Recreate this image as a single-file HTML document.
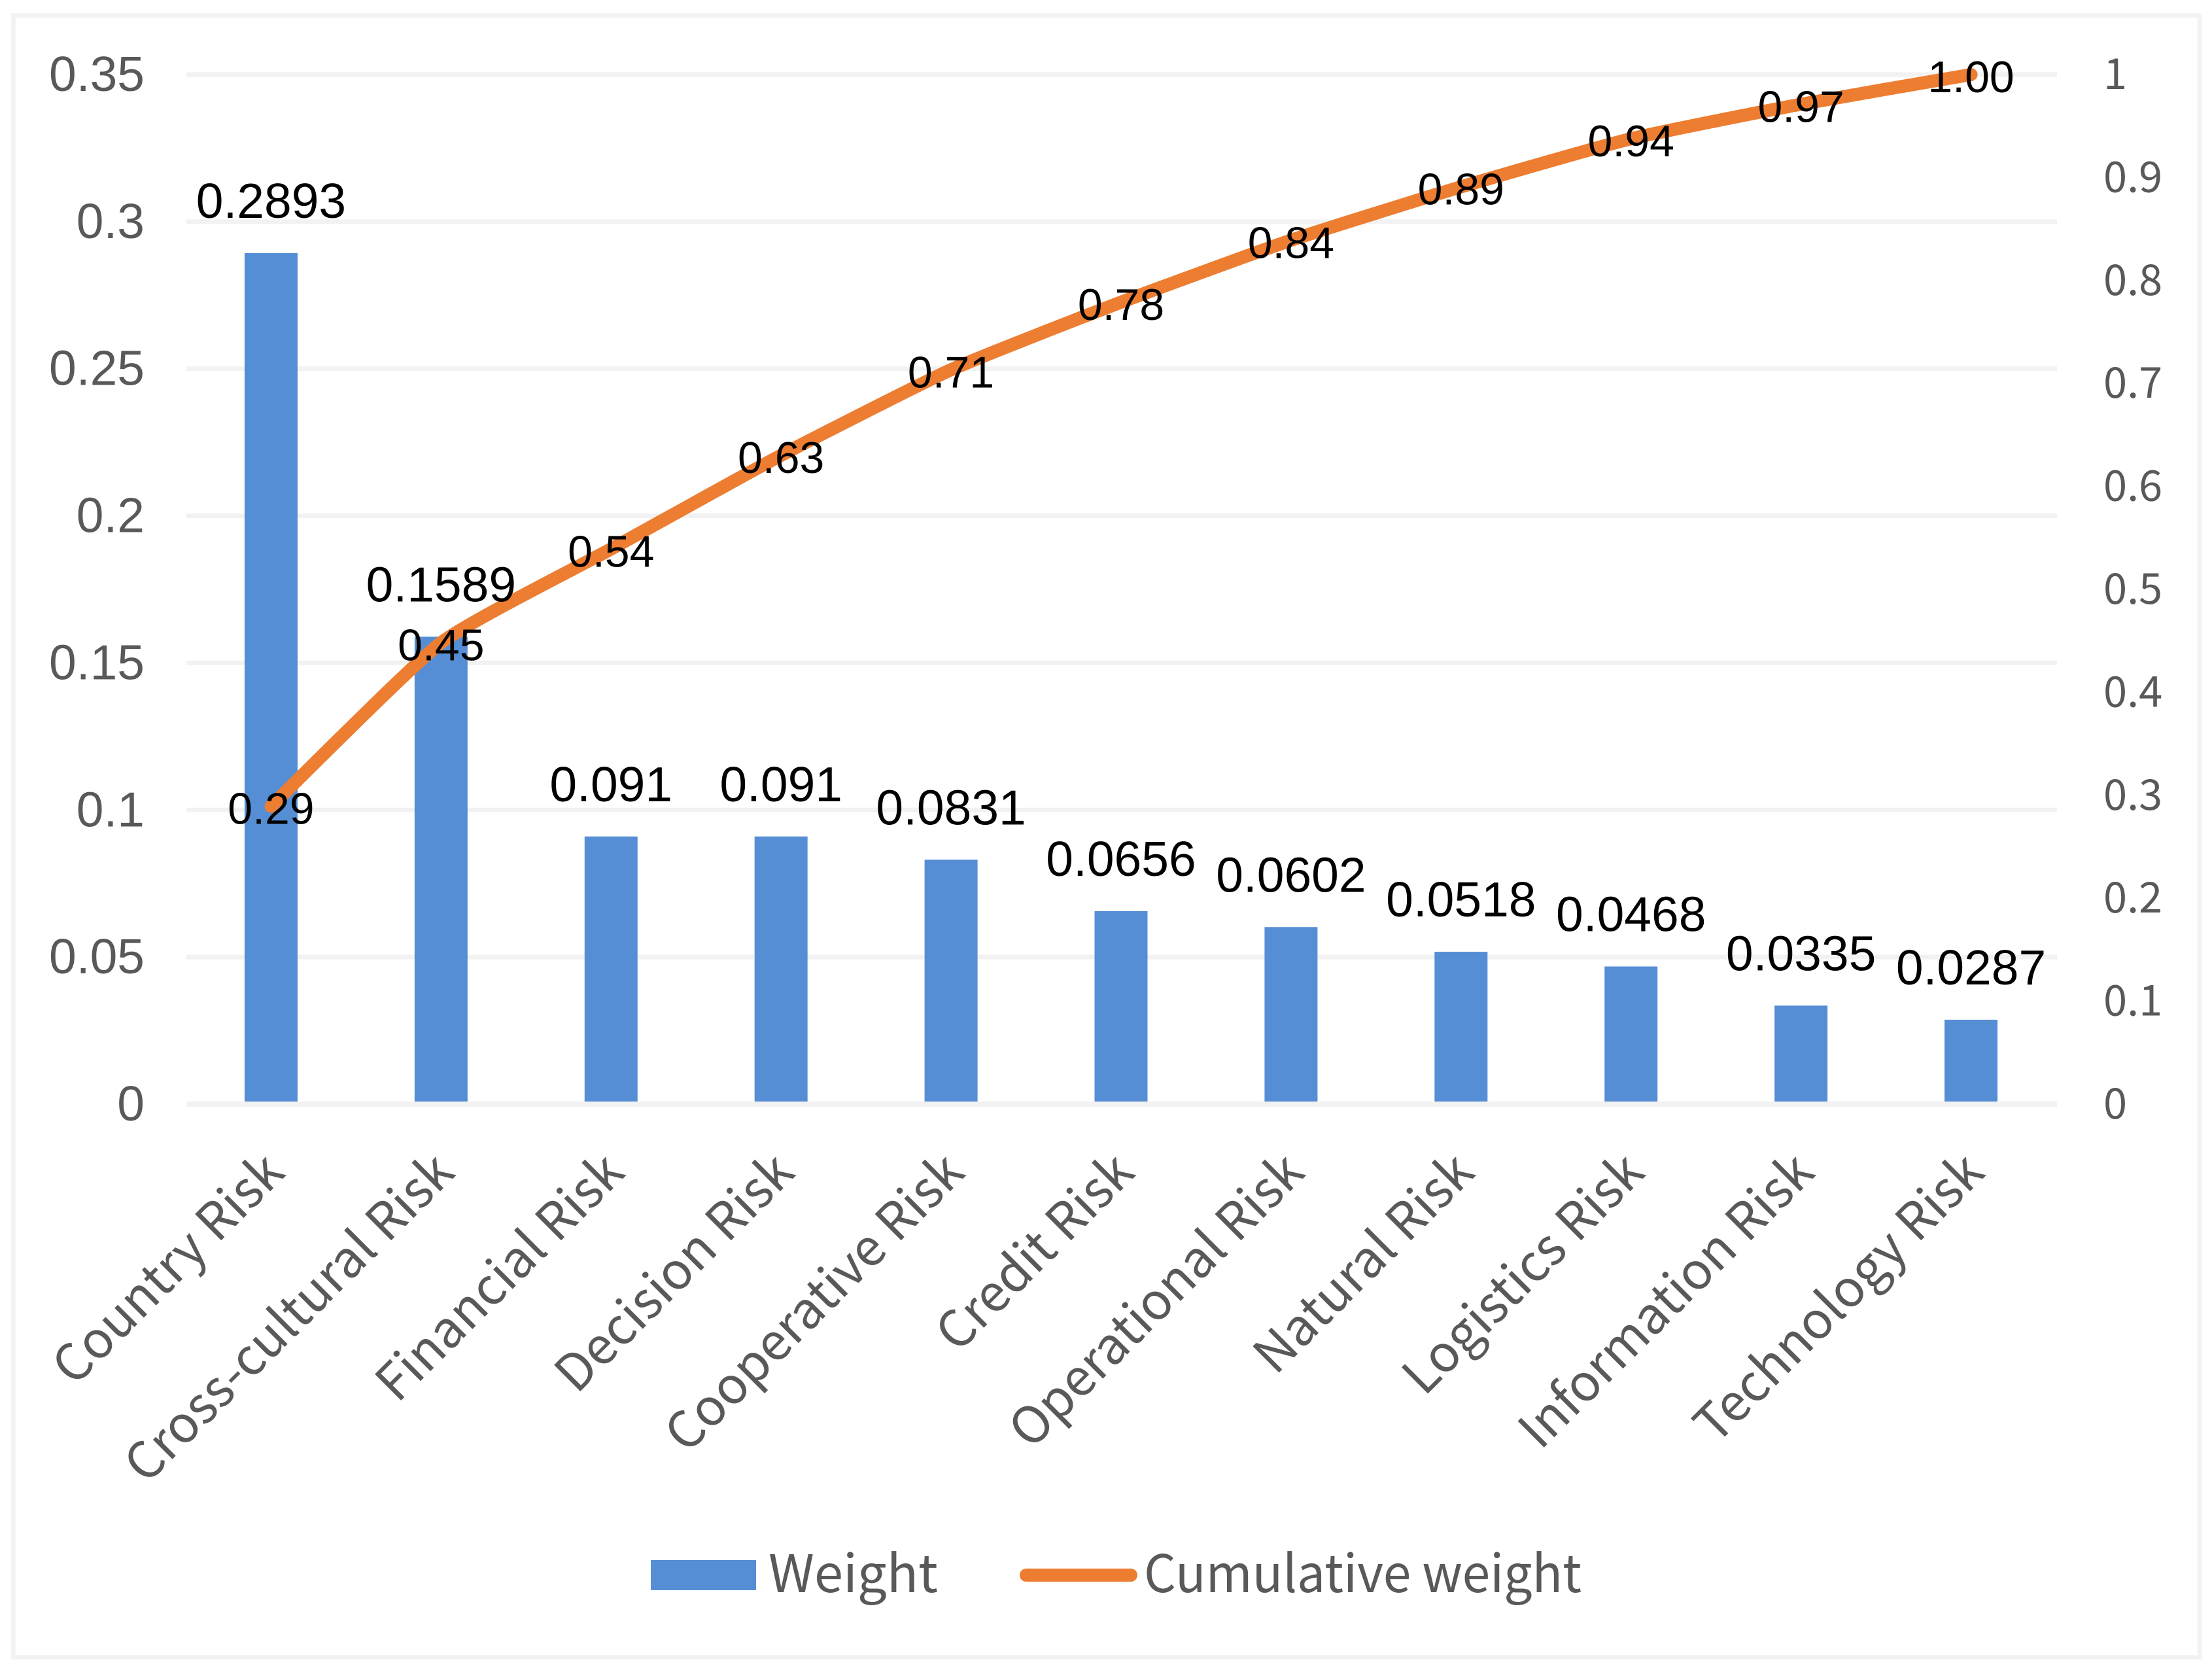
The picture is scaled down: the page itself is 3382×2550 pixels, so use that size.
<!DOCTYPE html>
<html lang="en">
<head>
<meta charset="utf-8">
<title>Risk weight Pareto chart</title>
<style>
html,body{margin:0;padding:0;background:#fff;width:3382px;height:2550px;overflow:hidden}
svg{display:block}
.arial{font-family:"Liberation Sans",Arial,sans-serif}
.noto{font-family:"Noto Sans CJK SC","Liberation Sans",sans-serif}
</style>
</head>
<body>
<svg id="chart" xmlns="http://www.w3.org/2000/svg" width="3382" height="2550" viewBox="0 0 3382 2550">
  <rect x="0" y="0" width="3382" height="2550" fill="#ffffff"/>
  <rect x="20.5" y="23.5" width="3342.5" height="2510" fill="none" stroke="#f2f2f2" stroke-width="6.5"/>
  <g id="grid"></g>
  <g id="bars"></g>
  <g id="axis"></g>
  <g id="line"></g>
  <g id="leftTicks"></g>
  <g id="rightTicks"></g>
  <g id="catLabels"></g>
  <g id="barLabels"></g>
  <g id="lineLabels"></g>
  <g>
    <g>
      <rect x="995" y="2385" width="161" height="46" fill="#558ed5"/>
      <text class="noto" x="1175" y="2434" font-size="79" fill="#595959" textLength="259" lengthAdjust="spacingAndGlyphs">Weight</text>
    </g>
    <g>
      <line x1="1569" y1="2408" x2="1729" y2="2408" stroke="#ed7d31" stroke-width="20" stroke-linecap="round"/>
      <text class="noto" x="1749" y="2434" font-size="79" fill="#595959" textLength="669" lengthAdjust="spacingAndGlyphs">Cumulative weight</text>
    </g>
  </g>
</svg>
<script>
const categories = ['Country Risk','Cross-cultural Risk','Financial Risk','Decision Risk','Cooperative Risk','Credit Risk','Operational Risk','Natural Risk','Logistics Risk','Information Risk','Technology Risk'];
const weightValues = [0.2893,0.1589,0.091,0.091,0.0831,0.0656,0.0602,0.0518,0.0468,0.0335,0.0287];
const weightLabels = ['0.2893','0.1589','0.091','0.091','0.0831','0.0656','0.0602','0.0518','0.0468','0.0335','0.0287'];
const cumulativeValues = [0.2893,0.4482,0.5392,0.6302,0.7133,0.7789,0.8391,0.8909,0.9377,0.9712,1.0];
const cumulativeLabels = ['0.29','0.45','0.54','0.63','0.71','0.78','0.84','0.89','0.94','0.97','1.00'];
const leftTickLabels = ['0','0.05','0.1','0.15','0.2','0.25','0.3','0.35'];
const rightTickLabels = ['0','0.1','0.2','0.3','0.4','0.5','0.6','0.7','0.8','0.9','1'];

const NS = 'http://www.w3.org/2000/svg';
const plotLeft = 285, plotRight = 3145, plotTop = 114, plotBottom = 1688;
const bandLeft = 284.5, bandRight = 3143.5;
const leftMax = 0.35, rightMax = 1;
const barWidth = 81;

function xBand(i) { return bandLeft + (bandRight - bandLeft) * (i + 0.5) / categories.length; }
function yLeft(v) { return plotBottom - (plotBottom - plotTop) * v / leftMax; }
function yRight(v) { return plotBottom - (plotBottom - plotTop) * v / rightMax; }
function make(tag, parent, attrs) {
  const el = document.createElementNS(NS, tag);
  for (const k in attrs) el.setAttribute(k, attrs[k]);
  parent.appendChild(el);
  return el;
}

const gridG = document.getElementById('grid');
leftTickLabels.forEach(function (t) {
  const v = Number(t);
  if (v === 0) return;
  const el = make('line', gridG, {x1: plotLeft, x2: plotRight, y1: yLeft(v), y2: yLeft(v), stroke: '#f2f2f2', 'stroke-width': 7});
  
  
});

const barsG = document.getElementById('bars');
weightValues.forEach(function (v, i) {
  const el = make('rect', barsG, {x: xBand(i) - barWidth / 2, y: yLeft(v), width: barWidth, height: yLeft(0) - yLeft(v), fill: '#558ed5'});
  
  
});

const axisG = document.getElementById('axis');
const axisLine = make('line', axisG, {x1: plotLeft, x2: plotRight, y1: plotBottom, y2: plotBottom, stroke: '#f2f2f2', 'stroke-width': 8});



const pts = cumulativeValues.map(function (v, i) { return [xBand(i), yRight(v)]; });
let d = 'M' + pts[0][0] + ' ' + pts[0][1];
for (let i = 0; i < pts.length - 1; i++) {
  const p0 = pts[Math.max(i - 1, 0)], p1 = pts[i], p2 = pts[i + 1], p3 = pts[Math.min(i + 2, pts.length - 1)];
  const c1x = p1[0] + (p2[0] - p0[0]) / 12, c1y = p1[1] + (p2[1] - p0[1]) / 12;
  const c2x = p2[0] - (p3[0] - p1[0]) / 12, c2y = p2[1] - (p3[1] - p1[1]) / 12;
  d += ' C' + c1x + ' ' + c1y + ' ' + c2x + ' ' + c2y + ' ' + p2[0] + ' ' + p2[1];
}
const linePath = make('path', document.getElementById('line'), {d: d, fill: 'none', stroke: '#ed7d31', 'stroke-width': 20, 'stroke-linecap': 'round', 'stroke-linejoin': 'round'});



const leftG = document.getElementById('leftTicks');
leftTickLabels.forEach(function (t) {
  const el = make('text', leftG, {x: 221, y: yLeft(Number(t)) + 25, 'text-anchor': 'end', 'font-size': 75, fill: '#595959', class: 'arial'});
  el.textContent = t;
  
  
});

const rightG = document.getElementById('rightTicks');
rightTickLabels.forEach(function (t) {
  const el = make('text', rightG, {x: 3216, y: yRight(Number(t)) + 22, 'text-anchor': 'start', 'font-size': 65, fill: '#595959', class: 'noto'});
  el.textContent = t;
  
  
});

const catG = document.getElementById('catLabels');
categories.forEach(function (c, i) {
  const ax = xBand(i) + 24, ay = 1796;
  const el = make('text', catG, {x: ax, y: ay, 'text-anchor': 'end', 'font-size': 77.5, fill: '#595959', class: 'noto', transform: 'rotate(-45 ' + ax + ' ' + ay + ')'});
  el.textContent = c;
  
  
});

const barLabelG = document.getElementById('barLabels');
weightValues.forEach(function (v, i) {
  const el = make('text', barLabelG, {x: xBand(i), y: yLeft(v) - 54, 'text-anchor': 'middle', 'font-size': 75, fill: '#000000', class: 'arial'});
  el.textContent = weightLabels[i];
  
  
});

const lineLabelG = document.getElementById('lineLabels');
cumulativeValues.forEach(function (v, i) {
  const el = make('text', lineLabelG, {x: xBand(i), y: yRight(v) + 27, 'text-anchor': 'middle', 'font-size': 68, fill: '#000000', class: 'arial'});
  el.textContent = cumulativeLabels[i];
  
  
});
</script>
</body>
</html>
